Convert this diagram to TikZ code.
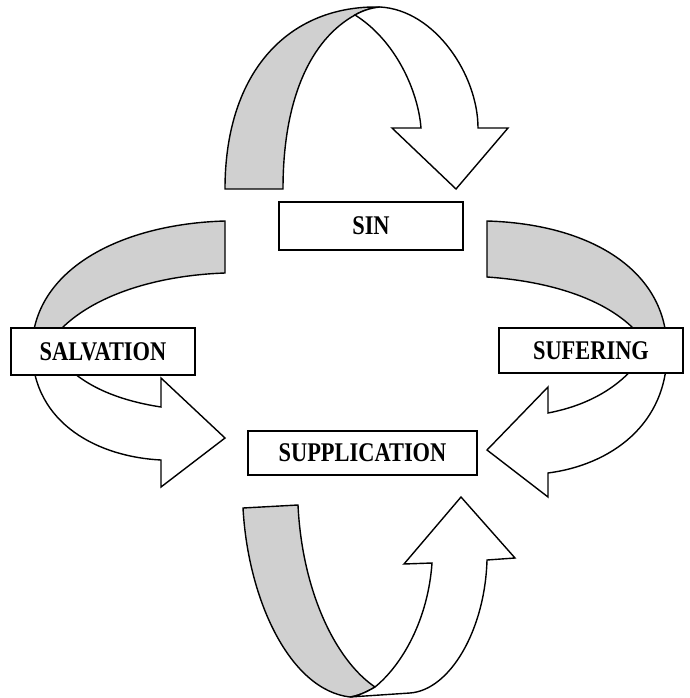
\documentclass[tikz,border=0pt]{standalone}
\usepackage{fontspec}
\newfontfamily\labfont[FakeStretch=0.83]{Liberation Serif}
\definecolor{bandgray}{RGB}{208,208,208}
\begin{document}
\begin{tikzpicture}[x=1pt,y=-1pt,
  back/.style={draw=black,fill=bandgray,line width=1.4pt,line join=miter},
  front/.style={draw=black,fill=white,line width=1.4pt,line join=miter},
  label/.style={draw=black,fill=white,line width=1.6pt,inner sep=0pt,
    font=\labfont\bfseries\fontsize{27}{27}\selectfont}]
\useasboundingbox (0,0) rectangle (689,698);
% top arrow
\path[back] (225,189) -- (283,189) .. controls (283,100) and (310,40) .. (355,15)
  .. controls (362,11) and (370,8) .. (380,7) .. controls (290,5) and (225,70) .. (225,189) -- cycle;
\path[front] (355,15) .. controls (395,40) and (418,90) .. (421,128) -- (392,128) -- (456,189)
  -- (508,128) -- (478,128) .. controls (478,75) and (435,10) .. (380,7)
  .. controls (370,8) and (362,11) .. (355,15) -- cycle;
% left arrow
\path[back] (225,221) .. controls (120,224) and (32,270) .. (32,350) -- (45,350)
  .. controls (70,305) and (140,276) .. (225,273) -- cycle;
\path[front] (32,350) .. controls (33,425) and (100,457) .. (161,460) -- (161,487) -- (225,438)
  -- (161,378) -- (161,407) .. controls (115,400) and (75,383) .. (55,352) -- cycle;
% right arrow
\path[back] (487,221) .. controls (590,224) and (667,270) .. (667,350) -- (650,350)
  .. controls (625,305) and (560,282) .. (487,277) -- cycle;
\path[front] (667,350) .. controls (668,425) and (610,465) .. (548,473) -- (548,497) -- (487,450)
  -- (548,387) -- (548,413) .. controls (590,405) and (625,385) .. (645,352) -- cycle;
% bottom arrow
\path[back] (243,508) -- (298,505) .. controls (302,590) and (335,660) .. (375,687)
  .. controls (365,693) and (357,696) .. (350,697) .. controls (290,690) and (248,600) .. (243,508) -- cycle;
\path[front] (375,687) .. controls (402,665) and (428,620) .. (432,563) -- (404,564) -- (461,497)
  -- (515,558) -- (487,560) .. controls (485,630) and (450,690) .. (410,693) -- (350,697)
  .. controls (357,696) and (365,693) .. (375,687) -- cycle;
% boxes
\node[label,minimum width=184pt,minimum height=48pt] (sin) at (371,226) {SIN};
\node[label,minimum width=184pt,minimum height=47pt] (salv) at (103,351.5) {SALVATION};
\node[label,minimum width=184pt,minimum height=45pt] (suf) at (591,350.5) {SUFERING};
\node[label,minimum width=229pt,minimum height=44pt] (supp) at (362.5,453) {SUPPLICATION};
\end{tikzpicture}
\end{document}
